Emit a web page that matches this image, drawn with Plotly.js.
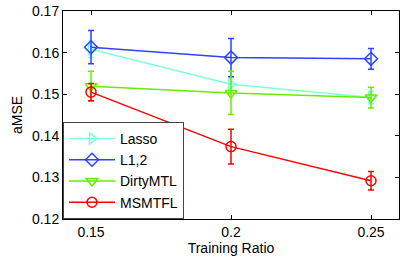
<!DOCTYPE html>
<html><head><meta charset="utf-8">
<script src="https://cdn.plot.ly/plotly-3.0.1.min.js"></script>
<style>html,body{margin:0;padding:0;background:#fff}#c{width:407px;height:260px}</style>
</head><body><div id="c"></div>
<script>
const ratios = [0.15, 0.2, 0.25];
const seriesNames = ["Lasso", "L1,2", "DirtyMTL", "MSMTFL"];
const lassoMean = [0.1608, 0.1524, 0.1492];
const lassoErr = [0.0020, 0.0017, 0.0015];
const l12Mean = [0.1613, 0.1588, 0.1585];
const l12Err = [0.0040, 0.0046, 0.0025];
const dirtyMean = [0.1519, 0.1503, 0.1492];
const dirtyErr = [0.0036, 0.0052, 0.0025];
const msmtflMean = [0.1505, 0.1374, 0.1292];
const msmtflErr = [0.0021, 0.0042, 0.0022];
const yTicks = [0.12, 0.13, 0.14, 0.15, 0.16, 0.17];
const xTicks = [0.15, 0.2, 0.25];

const colors = ["#80ffe0", "#2a44ff", "#66ee00", "#ff0000"];
const symbols = ["triangle-right-open", "diamond-open", "triangle-down-open", "circle-open"];
const means = [lassoMean, l12Mean, dirtyMean, msmtflMean];
const errs = [lassoErr, l12Err, dirtyErr, msmtflErr];

const traces = seriesNames.map((n, i) => ({
  x: ratios, y: means[i], name: n, type: "scatter", mode: "lines+markers",
  line: {color: colors[i], width: 1.5},
  marker: {symbol: symbols[i], size: 10, color: colors[i], line: {width: 1.5, color: colors[i]}},
  error_y: {type: "data", array: errs[i], visible: true, color: colors[i], thickness: 1.5, width: 3}
}));

const font = {family: "Liberation Sans, Arial, sans-serif", color: "#000", size: 14};
Plotly.newPlot("c", traces, {
  width: 407, height: 260,
  margin: {l: 63, r: 8, t: 11, b: 41},
  paper_bgcolor: "#fff", plot_bgcolor: "#fff",
  font: font,
  showlegend: true,
  legend: {x: 0, y: 0, xanchor: "left", yanchor: "bottom", bgcolor: "#fff",
           bordercolor: "#444", borderwidth: 1, font: {family: font.family, size: 14, color: "#000"},
           tracegroupgap: 0, itemwidth: 46},
  xaxis: {range: [0.14, 0.26], tickvals: xTicks, ticktext: xTicks.map(String),
          ticks: "inside", ticklen: 4, tickcolor: "#000", showline: true, linecolor: "#000",
          linewidth: 1, mirror: "ticks", showgrid: false, zeroline: false,
          title: {text: "Training Ratio", font: {size: 14}, standoff: 3}},
  yaxis: {range: [0.12, 0.17], tickvals: yTicks, ticktext: yTicks.map(v => v.toFixed(2)),
          ticks: "inside", ticklen: 4, tickcolor: "#000", showline: true, linecolor: "#000",
          linewidth: 1, mirror: "ticks", showgrid: false, zeroline: false,
          title: {text: "aMSE", font: {size: 14}, standoff: 6}}
}, {staticPlot: true});
</script></body></html>
